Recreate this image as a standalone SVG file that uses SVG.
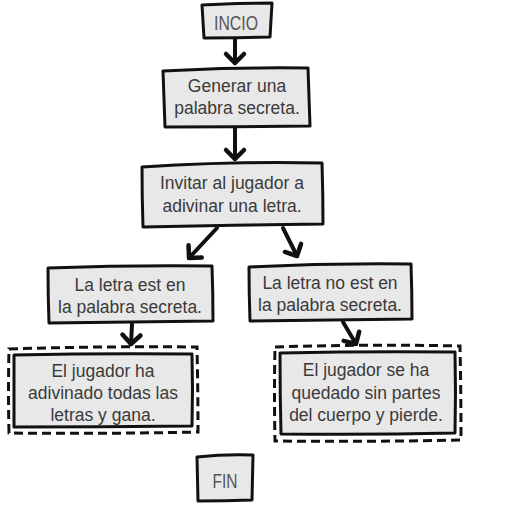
<svg xmlns="http://www.w3.org/2000/svg" width="505" height="505" viewBox="0 0 505 505">
<style>
.box{fill:#e8e8e8;stroke:#111;stroke-width:3;stroke-linejoin:round}
.dash{fill:none;stroke:#111;stroke-width:3;stroke-dasharray:9 5}
.t{font-family:"Liberation Sans",Arial,sans-serif;font-size:17.5px;fill:#3a3a3a;text-anchor:middle}
.cap{font-family:"Liberation Sans",Arial,sans-serif;font-size:21px;fill:#555;text-anchor:middle}
.c{fill:none;stroke:#111;stroke-width:4;stroke-linecap:round}
</style>
<defs>
<marker id="ah" markerUnits="userSpaceOnUse" markerWidth="26" markerHeight="26" refX="13" refY="13" orient="auto" viewBox="0 0 26 26">
<path d="M4,4 L13,13 L4,22" fill="none" stroke="#111" stroke-width="4.5" stroke-linecap="round" stroke-linejoin="round"/>
</marker>
</defs>
<g id="connectors">
<path class="c" d="M235,39 L235,63" marker-end="url(#ah)"/>
<path class="c" d="M235,128 L235,159" marker-end="url(#ah)"/>
<path class="c" d="M217,228 L189,258" marker-end="url(#ah)"/>
<path class="c" d="M283,228 L297,256" marker-end="url(#ah)"/>
<path class="c" d="M132,324 L131,344" marker-end="url(#ah)"/>
<path class="c" d="M343,322 L356,344" marker-end="url(#ah)"/>
</g>
<g id="inicio">
<path class="box" d="M202,5 Q237,3 272,3 L270,37 Q237,38 204,38 Z"/>
<text class="cap" x="236" y="30" textLength="44" lengthAdjust="spacingAndGlyphs">INCIO</text>
</g>
<g id="generar">
<path class="box" d="M163,71 Q236,67 308,68 Q309,97 310,126 Q237,127 165,127 Q164,99 163,71 Z"/>
<text class="t" x="237" y="92">Generar una</text>
<text class="t" x="237" y="114">palabra secreta.</text>
</g>
<g id="invitar">
<path class="box" d="M142,167 Q232,161 322,163 Q323,194 323,224 Q233,225 143,227 Q142,197 142,167 Z"/>
<text class="t" x="232" y="189">Invitar al jugador a</text>
<text class="t" x="232" y="212">adivinar una letra.</text>
</g>
<g id="esta">
<path class="box" d="M48,268 Q130,265 212,266 Q213,294 213,321 Q131,322 49,323 Q48,296 48,268 Z"/>
<text class="t" x="130" y="291">La letra est en</text>
<text class="t" x="130" y="313">la palabra secreta.</text>
</g>
<g id="noesta">
<path class="box" d="M249,267 Q330,263 411,264 Q412,292 412,319 Q331,320 250,321 Q249,294 249,267 Z"/>
<text class="t" x="330" y="289">La letra no est en</text>
<text class="t" x="330" y="311">la palabra secreta.</text>
</g>
<g id="gana">
<path class="dash" d="M9,349 Q103,346 197,347 Q198,390 198,432 Q103,434 9,433 Q8,391 9,349 Z"/>
<path class="box" d="M14,355 Q103,353 192,354 Q193,390 192,426 Q103,427 14,427 Q14,391 14,355 Z"/>
<text class="t" x="103" y="377">El jugador ha</text>
<text class="t" x="103" y="399">adivinado todas las</text>
<text class="t" x="103" y="421">letras y gana.</text>
</g>
<g id="pierde">
<path class="dash" d="M275,347 Q368,344 460,346 Q461,393 461,440 Q368,442 275,441 Q274,394 275,347 Z"/>
<path class="box" d="M280,353 Q368,351 455,352 Q456,393 455,433 Q368,435 281,434 Q280,394 280,353 Z"/>
<text class="t" x="366" y="376">El jugador se ha</text>
<text class="t" x="366" y="399">quedado sin partes</text>
<text class="t" x="366" y="421">del cuerpo y pierde.</text>
</g>
<g id="fin">
<path class="box" d="M197,457 Q225,454 253,455 L252,500 Q225,501 198,501 Z"/>
<text class="cap" x="225" y="488" textLength="25" lengthAdjust="spacingAndGlyphs">FIN</text>
</g>
</svg>
